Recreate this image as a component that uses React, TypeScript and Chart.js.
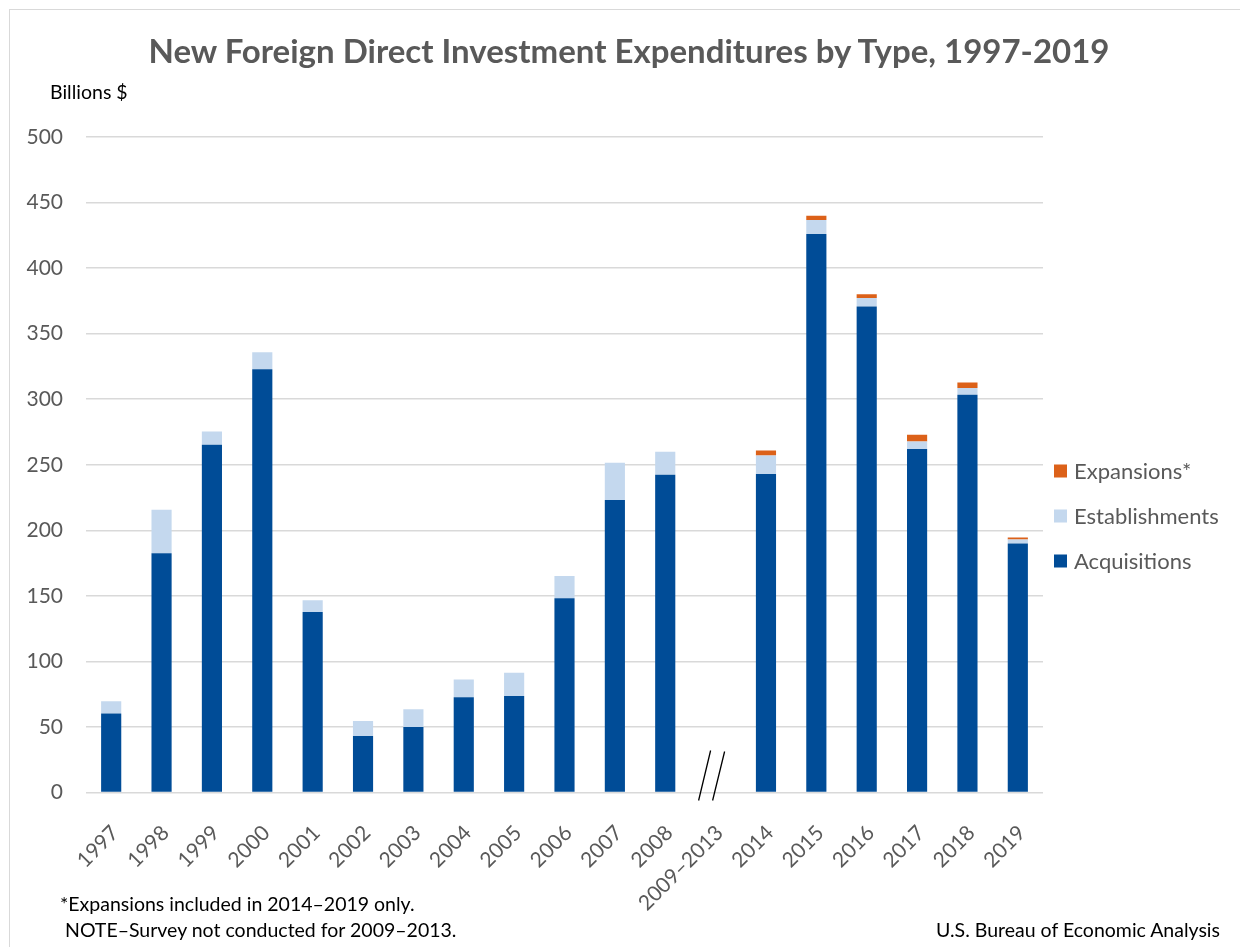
import React, { useEffect, useRef } from 'react';
import { Chart, registerables } from 'chart.js';

Chart.register(...registerables);

const categories = [
  '1997', '1998', '1999', '2000', '2001', '2002', '2003', '2004', '2005', '2006',
  '2007', '2008', '2009–2013', '2014', '2015', '2016', '2017', '2018', '2019',
];
const acquisitions = [
  60.2, 182.4, 265.2, 322.9, 137.6, 43.1, 50.0, 72.7, 73.7, 148.1,
  223.1, 242.4, null, 242.9, 426.0, 370.7, 262.0, 303.4, 190.0,
];
const establishments = [
  9.4, 33.3, 10.1, 13.0, 9.1, 11.5, 13.5, 13.4, 17.6, 17.1,
  28.4, 17.5, null, 14.2, 10.7, 6.4, 5.8, 5.1, 3.0,
];
const expansions = [
  null, null, null, null, null, null, null, null, null, null,
  null, null, null, 3.8, 3.3, 3.0, 5.1, 4.3, 1.5,
];
const breakCategory = '2009–2013';
const yMin = 0;
const yMax = 500;
const yStep = 50;

const titleText = 'New Foreign Direct Investment Expenditures by Type, 1997-2019';
const unitText = 'Billions $';
const footnote1 = '*Expansions included in 2014–2019 only.';
const footnote2 = 'NOTE–Survey not conducted for 2009–2013.';
const sourceText = 'U.S. Bureau of Economic Analysis';

const FONT = 'Lato, "Open Sans", sans-serif';
const GRAY = '#595959';

type TxtProps = {
  x: number;
  baseline: number;
  size: number;
  weight?: number;
  color?: string;
  align?: 'left' | 'center' | 'right';
  children: React.ReactNode;
};

function Txt({ x, baseline, size, weight = 400, color = '#000', align = 'left', children }: TxtProps) {
  const style: React.CSSProperties = {
    position: 'absolute',
    top: baseline - 0.987 * size,
    fontFamily: FONT,
    fontSize: size,
    fontWeight: weight,
    lineHeight: 1.2,
    color,
    whiteSpace: 'nowrap',
  };
  if (align === 'left') style.left = x;
  if (align === 'center') {
    style.left = x;
    style.transform = 'translateX(-50%)';
  }
  if (align === 'right') style.right = 1240 - x;
  return <div style={style}>{children}</div>;
}

const decorPlugin = {
  id: 'decor',
  afterDatasetsDraw(chart: any) {
    const { ctx, scales } = chart;
    const idx = categories.indexOf(breakCategory);
    const cx = scales.x.getPixelForValue(idx);
    const y0 = scales.y.getPixelForValue(0);
    ctx.save();
    ctx.strokeStyle = '#000';
    ctx.lineWidth = 1.3;
    ctx.beginPath();
    ctx.moveTo(cx - 17, y0 + 8);
    ctx.lineTo(cx - 5, y0 - 42);
    ctx.moveTo(cx - 3, y0 + 8);
    ctx.lineTo(cx + 9, y0 - 41);
    ctx.stroke();
    ctx.restore();
  },
  afterDraw(chart: any) {
    const { ctx, chartArea } = chart;
    const ds = chart.data.datasets;
    const order = [2, 1, 0];
    const lx = chartArea.right + 11;
    const firstY = 471;
    const gap = 45;
    ctx.save();
    ctx.font = `22px ${FONT}`;
    ctx.textBaseline = 'middle';
    ctx.textAlign = 'left';
    order.forEach((di, i) => {
      const y = firstY + i * gap;
      ctx.fillStyle = ds[di].backgroundColor;
      ctx.fillRect(lx, y - 6.5, 13, 13);
      ctx.fillStyle = GRAY;
      ctx.fillText(ds[di].label, lx + 20, y + 1);
    });
    ctx.restore();
  },
};

export default function App() {
  const ref = useRef<HTMLCanvasElement>(null);

  useEffect(() => {
    if (!ref.current) return;
    const chart = new Chart(ref.current, {
      type: 'bar',
      data: {
        labels: categories,
        datasets: [
          { label: 'Acquisitions', data: acquisitions, backgroundColor: '#004C97', stack: 's' },
          { label: 'Establishments', data: establishments, backgroundColor: '#C4D8EE', stack: 's' },
          { label: 'Expansions*', data: expansions, backgroundColor: '#DC6119', stack: 's' },
        ],
      },
      options: {
        animation: false,
        responsive: false,
        maintainAspectRatio: false,
        layout: { padding: { left: 0, top: 137, right: 197, bottom: 0 } },
        datasets: { bar: { barPercentage: 0.4, categoryPercentage: 1 } },
        plugins: {
          legend: { display: false },
          title: { display: false },
          tooltip: { enabled: false },
        },
        scales: {
          x: {
            stacked: true,
            grid: { display: false },
            border: { display: false },
            ticks: {
              autoSkip: false,
              minRotation: 45,
              maxRotation: 45,
              padding: 20,
              labelOffset: 4,
              color: GRAY,
              font: { family: FONT, size: 21 },
            },
            afterFit: (s: any) => {
              s.height = 154.5;
            },
          },
          y: {
            stacked: true,
            min: yMin,
            max: yMax,
            ticks: {
              stepSize: yStep,
              padding: 23,
              color: GRAY,
              font: { family: FONT, size: 21 },
            },
            grid: { color: '#d9d9d9', lineWidth: 1.5, drawTicks: false },
            border: { display: false },
            afterFit: (s: any) => {
              s.width = 86;
            },
          },
        },
      } as any,
      plugins: [decorPlugin],
    });
    return () => chart.destroy();
  }, []);

  return (
    <div
      style={{
        position: 'fixed',
        left: 0,
        top: 0,
        width: 1240,
        height: 947,
        overflow: 'hidden',
        background: '#fff',
      }}
    >
      <div
        style={{
          position: 'absolute',
          left: 9,
          top: 9,
          width: 1400,
          height: 1100,
          border: '1px solid #d9d9d9',
        }}
      />
      <canvas
        ref={ref}
        width={1240}
        height={947}
        style={{ position: 'absolute', left: 0, top: 0, display: 'block' }}
      />
      <Txt x={629} baseline={64} size={33} weight={700} color={GRAY} align="center">
        {titleText}
      </Txt>
      <Txt x={50} baseline={99} size={19.5}>
        {unitText}
      </Txt>
      <Txt x={60} baseline={911} size={19.5}>
        {footnote1}
      </Txt>
      <Txt x={65} baseline={937} size={19.5}>
        {footnote2}
      </Txt>
      <Txt x={1220} baseline={937} size={19.5} align="right">
        {sourceText}
      </Txt>
    </div>
  );
}
